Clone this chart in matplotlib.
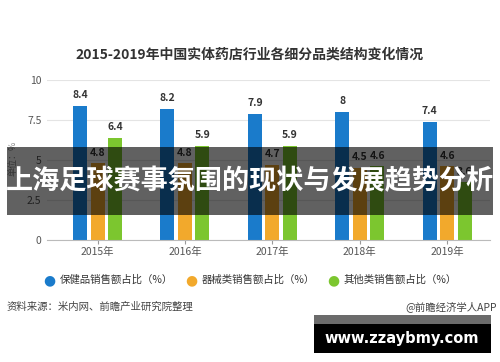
import numpy as np
import matplotlib
matplotlib.use('Agg')
import matplotlib.pyplot as plt
from matplotlib.patches import Rectangle

plt.rcParams['font.family'] = ['Noto Sans CJK SC', 'DejaVu Sans']

# data
years = ['2015年', '2016年', '2017年', '2018年', '2019年']
health = [8.4, 8.2, 7.9, 8, 7.4]
device = [4.8, 4.8, 4.7, 4.5, 4.6]
other = [6.4, 5.9, 5.9, 4.6, 3.6]
health_lbl = ['8.4', '8.2', '7.9', '8', '7.4']
device_lbl = ['4.8', '4.8', '4.7', '4.5', '4.6']
other_lbl = ['6.4', '5.9', '5.9', '4.6', '3.6']
series_names = ['保健品销售额占比（%）', '器械类销售额占比（%）', '其他类销售额占比（%）']
colors = ['#1a7bcb', '#f2a92c', '#7cc62f']

W, H = 500, 362
fig = plt.figure(figsize=(5, 3.62), dpi=100)

def fx(px):
    return px / W

def fy(py):
    return 1 - py / H

ax = fig.add_axes([fx(47), fy(240), fx(443), 160 / H])
x = np.arange(len(years))
bw = 0.16
off = 0.2
for i, (vals, lbls) in enumerate([(health, health_lbl), (device, device_lbl), (other, other_lbl)]):
    xs = x + (i - 1) * off
    ax.bar(xs, vals, width=bw, color=colors[i], zorder=2)
    for xi, v, t in zip(xs, vals, lbls):
        ax.text(xi, v + 0.35, t, ha='center', va='bottom', fontsize=7.5,
                fontweight='bold', color='#333333')

ax.set_ylim(0, 10)
ax.set_xlim(-0.578, 4.49)
ax.set_yticks([0, 2.5, 5, 7.5, 10])
ax.set_yticklabels(['0', '2.5', '5', '7.5', '10'])
ax.set_xticks(x)
ax.set_xticklabels(years)
ax.tick_params(axis='y', length=0, labelsize=7.5, labelcolor='#555555', pad=4)
ax.tick_params(axis='x', length=3, color='#999999', labelsize=7.5, labelcolor='#555555', pad=2)
ax.grid(axis='y', color='#e4e4e4', linewidth=0.8, zorder=0)
for s in ['top', 'right', 'left']:
    ax.spines[s].set_visible(False)
ax.spines['bottom'].set_color('#bbbbbb')
ax.set_axisbelow(True)

fig.text(fx(13), fy(158), '单位：%', rotation=90, ha='center', va='center',
         fontsize=6.5, color='#888888')

fig.text(fx(250), fy(55), '2015-2019年中国实体药店行业各细分品类结构变化情况',
         ha='center', va='center', fontsize=10, fontweight='bold', color='#333333')

# legend
leg_x = [49, 191, 333]
for lx, name, c in zip(leg_x, series_names, colors):
    fig.text(fx(lx), fy(280), '●', ha='center', va='center', fontsize=10,
             color=c, family='DejaVu Sans')
    fig.text(fx(lx + 11), fy(280), name, ha='left', va='center', fontsize=7.5,
             color='#333333')

fig.text(fx(7), fy(307), '资料来源：米内网、前瞻产业研究院整理', ha='left', va='center',
         fontsize=7.5, color='#444444')
fig.text(fx(497), fy(307), '@前瞻经济学人APP', ha='right', va='center',
         fontsize=7.5, color='#444444')

# overlay banner
fig.patches.append(Rectangle((fx(7), fy(215)), fx(486), 68 / H, transform=fig.transFigure,
                             facecolor='black', alpha=0.62, edgecolor='none', zorder=5))
fig.text(fx(250), fy(181), '上海足球赛事氛围的现状与发展趋势分析', ha='center', va='center',
         fontsize=19.5, fontweight='bold', color='white', zorder=6)

# site box
fig.patches.append(Rectangle((fx(314), fy(353)), fx(177), 38 / H, transform=fig.transFigure,
                             facecolor='black', edgecolor='none', zorder=5))
fig.patches.append(Rectangle((fx(314), fy(324)), fx(177), 9 / H, transform=fig.transFigure,
                             facecolor='#6b6b6b', edgecolor='none', zorder=6))
fig.text(fx(402), fy(338), 'www.zzaybmy.com', ha='center', va='center',
         fontsize=10.5, fontweight='bold', color='white', family='DejaVu Sans', zorder=7)

fig.savefig('out.png', dpi=100)
